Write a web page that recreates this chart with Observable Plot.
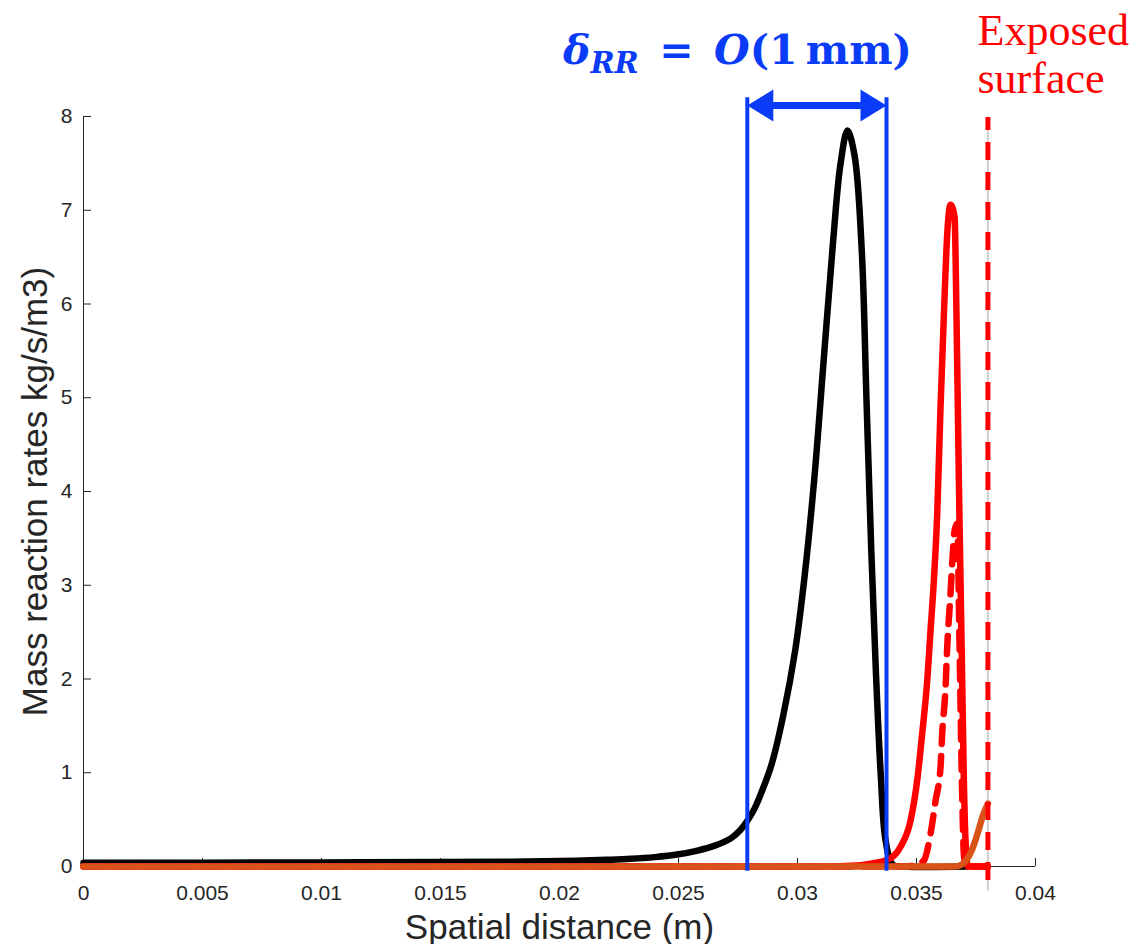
<!DOCTYPE html>
<html>
<head>
<meta charset="utf-8">
<script src="https://cdn.jsdelivr.net/npm/d3@7"></script>
<script src="https://cdn.jsdelivr.net/npm/@observablehq/plot@0.6"></script>
<style>
  html, body { margin: 0; padding: 0; background: #ffffff; }
</style>
</head>
<body>
<div id="chart"></div>
<script>
// ---------------- data ----------------
const xTicks = [0, 0.005, 0.01, 0.015, 0.02, 0.025, 0.03, 0.035, 0.04];
const yTicks = [0, 1, 2, 3, 4, 5, 6, 7, 8];

const xLabel = "Spatial distance (m)";
const yLabel = "Mass reaction rates kg/s/m3)";

// black curve
const blackX = [0, 0.005, 0.01, 0.015, 0.018, 0.02, 0.022, 0.023, 0.024, 0.025, 0.0258, 0.0265, 0.0272, 0.0276, 0.0279, 0.0282, 0.0285, 0.0289, 0.0294, 0.0299, 0.0303, 0.0307, 0.0311, 0.0315, 0.0318, 0.0321, 0.0324, 0.0327, 0.0329, 0.0331, 0.0333, 0.0335, 0.0337, 0.034, 0.0345, 0.0371];
const blackY = [0.040, 0.041, 0.043, 0.047, 0.052, 0.058, 0.072, 0.082, 0.10, 0.13, 0.17, 0.22, 0.30, 0.39, 0.49, 0.62, 0.80, 1.08, 1.61, 2.30, 3.10, 4.12, 5.40, 6.68, 7.48, 7.85, 7.58, 6.57, 4.97, 3.37, 2.04, 0.97, 0.28, 0.02, 0, 0];

// red solid curve
const redX = [0, 0.031, 0.0325, 0.0333, 0.03377, 0.03433, 0.03475, 0.03503, 0.03524, 0.03545, 0.03559, 0.03573, 0.03587, 0.03601, 0.03615, 0.03629, 0.03643, 0.0366, 0.03668, 0.03678, 0.03685, 0.03692, 0.03699, 0.03706, 0.03716, 0.038];
const redY = [0, 0, 0.01, 0.04, 0.07, 0.21, 0.49, 0.92, 1.42, 1.98, 2.52, 3.05, 3.76, 4.9, 5.88, 6.74, 7.06, 6.93, 5.88, 4.12, 3.05, 1.98, 0.92, 0.28, 0, 0];

// red dashed curve
const redDashX = [0, 0.0345, 0.035, 0.03531, 0.03559, 0.0358, 0.03601, 0.03608, 0.03622, 0.03629, 0.03643, 0.0365, 0.0366, 0.03671, 0.0368, 0.0369, 0.037, 0.0371, 0.038];
const redDashY = [0, 0, 0.02, 0.064, 0.35, 0.70, 1.06, 1.42, 1.91, 2.34, 2.91, 3.23, 3.58, 3.66, 2.5, 1.0, 0.1, 0, 0];

// orange curve
const orangeX = [0, 0.0366, 0.0369, 0.0371, 0.0373, 0.03745, 0.0376, 0.0378, 0.038];
const orangeY = [0, 0, 0.02, 0.07, 0.16, 0.26, 0.38, 0.55, 0.67];

// annotations
const surfaceX = [0.038];
const bracketX = [0.02789, 0.03374];
const deltaLabel = "δRR = O(1 mm)";
const surfaceLabel = "Exposed\nsurface";

// ---------------- helpers ----------------
const rows = (xs, ys) => xs.map((x, i) => ({x, y: ys[i]}));

const arrowLeft = {
  draw(ctx) { ctx.moveTo(0, 0); ctx.lineTo(26, -16); ctx.lineTo(26, 16); ctx.closePath(); }
};
const arrowRight = {
  draw(ctx) { ctx.moveTo(0, 0); ctx.lineTo(-26, -16); ctx.lineTo(-26, 16); ctx.closePath(); }
};

const axisColor = "#262626";
const blue = "#0a3cf7";
const lw = 6.5;

const chart = Plot.plot({
  width: 1147,
  height: 944,
  marginLeft: 83,
  marginRight: 112,
  marginTop: 116,
  marginBottom: 78,
  x: {domain: [0, 0.04], label: null},
  y: {domain: [0, 8], label: null},
  style: {fontFamily: "'Liberation Sans', Arial, Helvetica, sans-serif", background: "#ffffff", color: axisColor},
  marks: [
    // light gray guide at the surface
    Plot.ruleX(surfaceX, {y1: -0.26, y2: 7.99, stroke: "#cfcfcf", strokeWidth: 2}),
    // axis lines
    Plot.ruleX([0], {y1: 0, y2: 8, stroke: axisColor, strokeWidth: 1}),
    Plot.ruleY([0], {x1: 0, x2: 0.04, stroke: axisColor, strokeWidth: 1}),
    // inward ticks
    Plot.ruleX(xTicks, {y1: 0, y2: 8 / 93.75, stroke: axisColor, strokeWidth: 1}),
    Plot.ruleY(yTicks, {x1: 0, x2: 8 / 23800, stroke: axisColor, strokeWidth: 1}),
    Plot.axisX({ticks: xTicks, tickSize: 0, tickPadding: 19, fontSize: 21, tickFormat: d => String(d), label: null, color: axisColor}),
    Plot.axisY({ticks: yTicks, tickSize: 0, tickPadding: 11, fontSize: 21, tickFormat: d => String(d), label: null, color: axisColor}),
    // curves
    Plot.line(rows(blackX, blackY), {x: "x", y: "y", stroke: "#000000", strokeWidth: lw, curve: "catmull-rom", strokeLinejoin: "round"}),
    Plot.line(rows(redDashX, redDashY), {x: "x", y: "y", stroke: "#ff0000", strokeWidth: lw, curve: "monotone-x", strokeDasharray: "18,12"}),
    Plot.line(rows(redX, redY), {x: "x", y: "y", stroke: "#ff0000", strokeWidth: lw, curve: "monotone-x", strokeLinejoin: "round"}),
    Plot.line(rows(orangeX, orangeY), {x: "x", y: "y", stroke: "#d95319", strokeWidth: lw, curve: "monotone-x"}),
    // exposed surface dashed line
    Plot.ruleX(surfaceX, {y1: -0.15, y2: 7.99, stroke: "#ff0000", strokeWidth: 5, strokeDasharray: "18,12"}),
    // blue bracket
    Plot.ruleX(bracketX, {y1: -0.05, y2: 8.2, stroke: blue, strokeWidth: 4}),
    Plot.ruleY([8.117], {x1: bracketX[0] + 0.0008, x2: bracketX[1] - 0.0008, stroke: blue, strokeWidth: 7}),
    Plot.dot([bracketX[0]], {x: d => d, y: 8.117, symbol: arrowLeft, r: 10, fill: blue, stroke: "none"}),
    Plot.dot([bracketX[1]], {x: d => d, y: 8.117, symbol: arrowRight, r: 10, fill: blue, stroke: "none"}),
    // annotation texts
    Plot.text([deltaLabel], {x: 0.02748, y: 8.565, text: d => d, textAnchor: "middle", lineAnchor: "bottom", fontSize: 41, fontWeight: "bold", fontFamily: "'DejaVu Serif', serif", fill: blue}),
    Plot.text([surfaceLabel], {x: 0.037563, y: 8.256, text: d => d, textAnchor: "start", lineAnchor: "bottom", lineHeight: 1.07, fontSize: 44, fontFamily: "'Liberation Serif', 'Times New Roman', serif", fill: "#ff0000"}),
    // axis titles
    Plot.text([xLabel], {frameAnchor: "bottom", dy: 72, textAnchor: "middle", text: d => d, fontSize: 35, fill: axisColor}),
    Plot.text([yLabel], {frameAnchor: "left", dx: -48, textAnchor: "middle", rotate: -90, text: d => d, fontSize: 35, fill: axisColor})
  ]
});

document.getElementById("chart").appendChild(chart);

// rich formatting for the delta annotation (subscript + italics)
d3.select(chart).selectAll("text").filter(function() { return this.textContent === deltaLabel; }).each(function() {
  const t = d3.select(this);
  t.text(null);
  t.append("tspan").attr("font-style", "italic").text("δ");
  t.append("tspan").attr("font-style", "italic").attr("font-size", 29).attr("dy", 9).text("RR");
  t.append("tspan").attr("dy", -9).text("\u2002=\u2002");
  t.append("tspan").attr("font-style", "italic").text("O");
  t.append("tspan").text("(1\u2009mm)");
});
</script>
</body>
</html>
